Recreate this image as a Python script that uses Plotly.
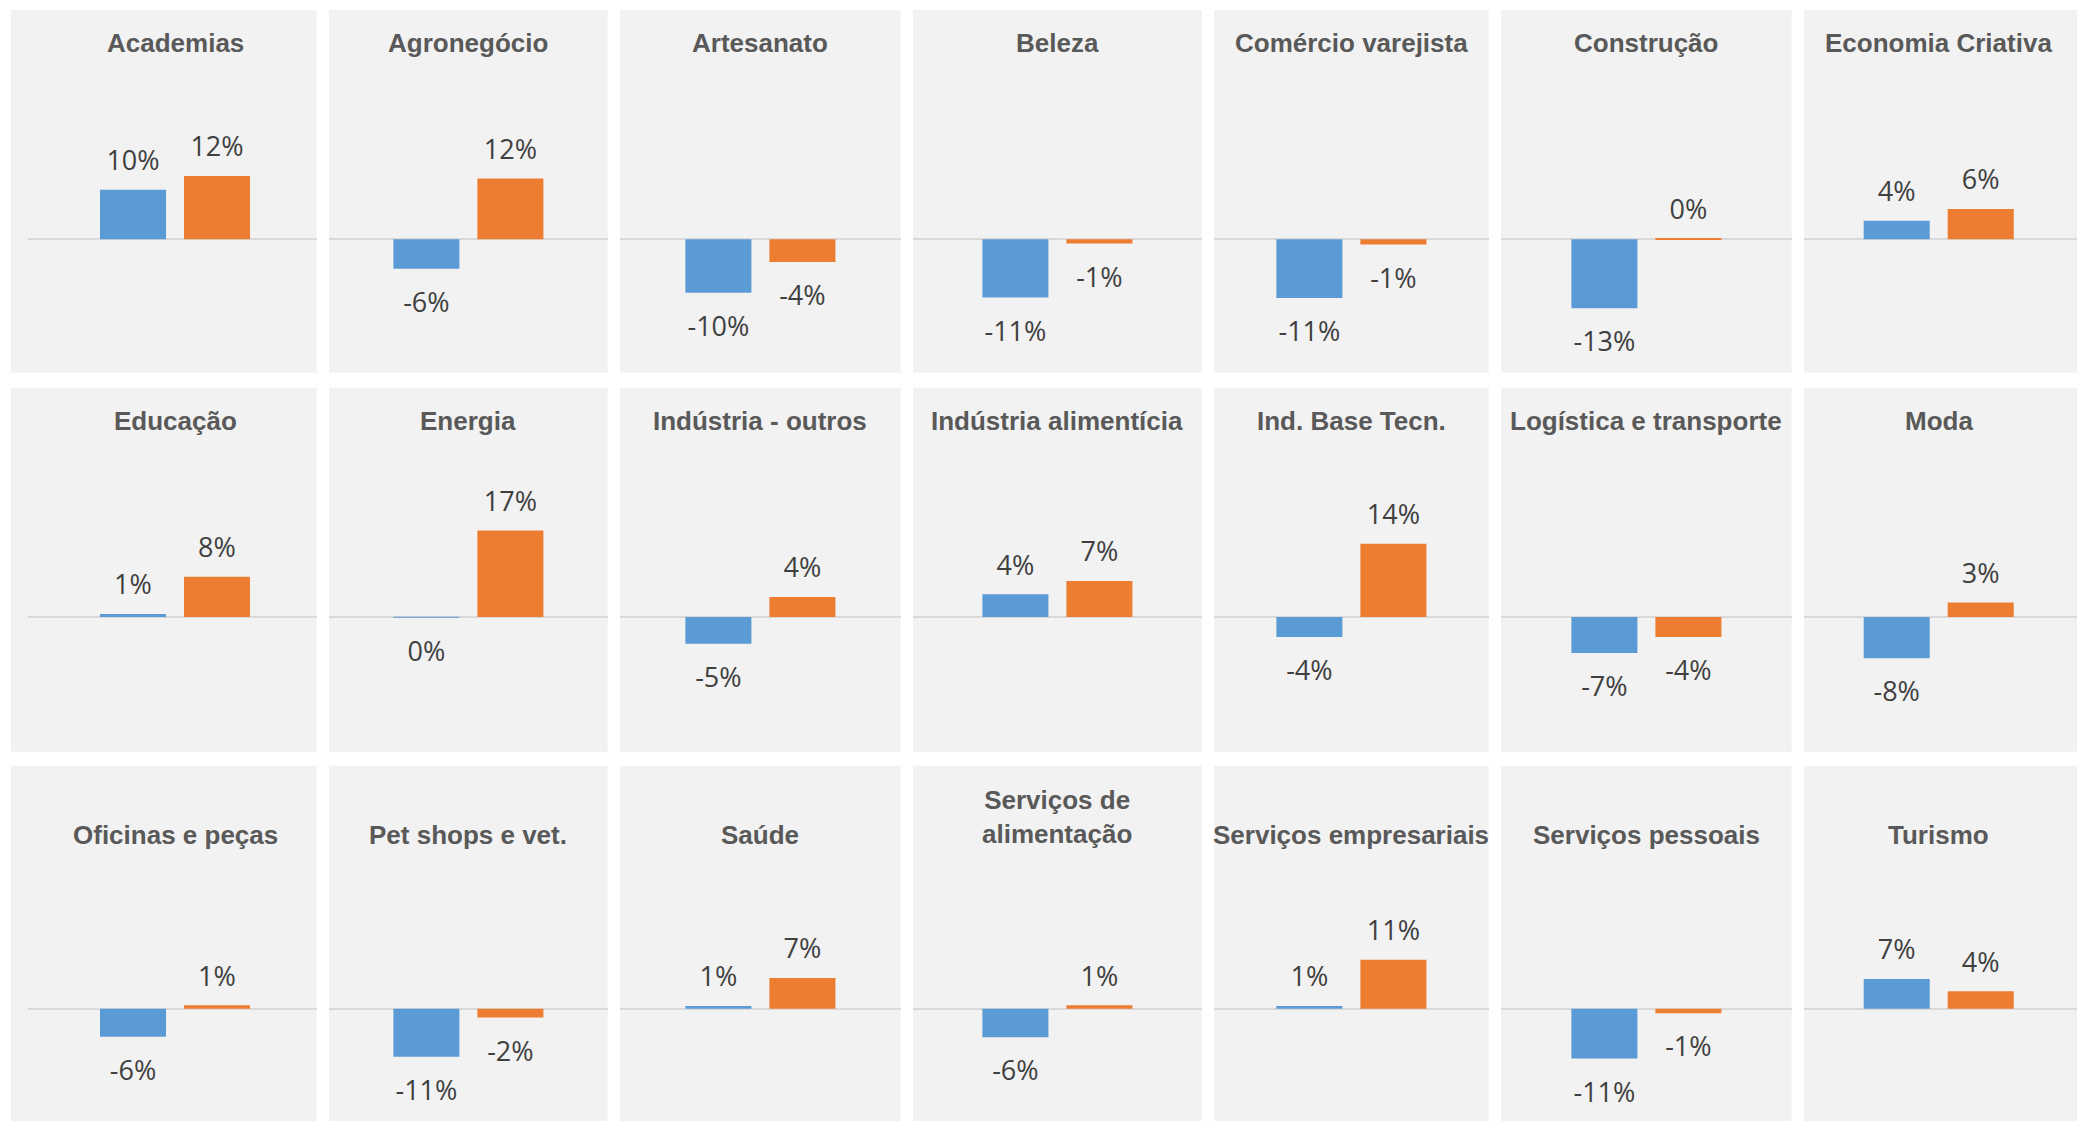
import plotly.graph_objects as go

# ---------------- data ----------------
sectors = ["Academias", "Agronegócio", "Artesanato", "Beleza", "Comércio varejista",
           "Construção", "Economia Criativa",
           "Educação", "Energia", "Indústria - outros", "Indústria alimentícia",
           "Ind. Base Tecn.", "Logística e transporte", "Moda",
           "Oficinas e peças", "Pet shops e vet.", "Saúde", "Serviços de alimentação",
           "Serviços empresariais", "Serviços pessoais", "Turismo"]
panel_titles = ["Academias", "Agronegócio", "Artesanato", "Beleza", "Comércio varejista",
                "Construção", "Economia Criativa",
                "Educação", "Energia", "Indústria - outros", "Indústria alimentícia",
                "Ind. Base Tecn.", "Logística e transporte", "Moda",
                "Oficinas e peças", "Pet shops e vet.", "Saúde", "Serviços de<br>alimentação",
                "Serviços empresariais", "Serviços pessoais", "Turismo"]
serie1_name = "Série 1"
serie2_name = "Série 2"
serie1 = [0.096, -0.057, -0.104, -0.113, -0.114, -0.134, 0.036,
          0.006, -0.001, -0.052, 0.044, -0.039, -0.070, -0.080,
          -0.063, -0.108, 0.006, -0.064, 0.006, -0.112, 0.067]
serie2 = [0.123, 0.118, -0.044, -0.008, -0.010, 0.001, 0.059,
          0.078, 0.168, 0.039, 0.070, 0.142, -0.039, 0.028,
          0.0075, -0.020, 0.069, 0.008, 0.110, -0.010, 0.039]

# ---------------- layout constants (pixels, page coordinates) ----------------
W, H = 2085, 1121
OFF = 8  # default body margin of the html page
col_left = [11, 329, 620, 913, 1214, 1501, 1804]
col_right = [316.7, 607.7, 900.7, 1201.7, 1488.7, 1791.7, 2093]
col_center = [175, 468.4, 760.4, 1057.4, 1351.4, 1646.4, 1938.7]
col_inset = [17, 0, 0, 0, 0, 0, 0]
row_top = [10, 387.7, 765.7]
row_bottom = [372.7, 751.7, 1129]
zero_y = [239.3, 617.0, 1008.7]
px_per_unit = [515, 515, 445]
title_y = [42.8, 421.2, 834.7]
UNIT = 280.0  # px per category unit
COLORS = ["#5B9BD5", "#ED7D31"]
LABEL_FONT = dict(family="Open Sans, Liberation Sans, sans-serif", size=27, color="#404040")
TITLE_FONT = dict(family="Liberation Sans, Arial, sans-serif", size=26, color="#595959", weight="bold")
SIZE_POS, SIZE_NEG = 19, 35


def fx(px):
    return (px - OFF) / W


def fy(py):
    return 1 - (py - OFF) / H


fig = go.Figure()
shapes, annotations = [], []

for i, sec in enumerate(sectors):
    r, c = divmod(i, 7)
    n = i + 1
    xa = "x" if n == 1 else f"x{n}"
    ya = "y" if n == 1 else f"y{n}"
    x0 = col_left[c] + col_inset[c]
    dom_x = [max(0, fx(x0)), min(1, fx(col_right[c]))]
    dom_y = [max(0, fy(row_bottom[r])), min(1, fy(row_top[r]))]
    left_px = dom_x[0] * W + OFF
    right_px = dom_x[1] * W + OFF
    top_px = row_top[r]
    bot_px = top_px + (dom_y[1] - dom_y[0]) * H
    xr = [-(col_center[c] - left_px) / UNIT, (right_px - col_center[c]) / UNIT]
    yr = [-(bot_px - zero_y[r]) / px_per_unit[r], (zero_y[r] - top_px) / px_per_unit[r]]

    shapes.append(dict(type="rect", xref="paper", yref="paper", layer="below",
                       x0=max(0, fx(col_left[c])), x1=dom_x[1],
                       y0=dom_y[0], y1=dom_y[1], fillcolor="#F2F2F2", line=dict(width=0)))

    for k, (vals, name) in enumerate([(serie1, serie1_name), (serie2, serie2_name)]):
        v = vals[i]
        fig.add_trace(go.Bar(x=[sec], y=[v], name=name, marker=dict(color=COLORS[k], line=dict(width=0)),
                             xaxis=xa, yaxis=ya, showlegend=False, hoverinfo="x+y+name",
                             offsetgroup=str(k)))
        fig.add_trace(go.Scatter(x=[sec], y=[v], mode="markers+text", texttemplate="%{y:.0%}",
                                 textposition="top center" if v >= 0 else "bottom center",
                                 textfont=LABEL_FONT,
                                 marker=dict(size=SIZE_POS if v >= 0 else SIZE_NEG, color="rgba(0,0,0,0)"),
                                 xaxis=xa, yaxis=ya, showlegend=False, hoverinfo="skip",
                                 offsetgroup=str(k), cliponaxis=False))

    axis_common = dict(showgrid=False, showticklabels=False, ticks="", showline=False, fixedrange=True)
    fig.layout[("xaxis" if n == 1 else f"xaxis{n}")] = dict(domain=dom_x, type="category",
                                                            range=xr, zeroline=False,
                                                            anchor=ya, **axis_common)
    fig.layout[("yaxis" if n == 1 else f"yaxis{n}")] = dict(domain=dom_y, range=yr, zeroline=True,
                                                            zerolinecolor="#D9D9D9", zerolinewidth=1.5,
                                                            anchor=xa, **axis_common)

    t = panel_titles[i]
    nlines = t.count("<br>") + 1
    ty = title_y[r] - (nlines - 1) * 18
    annotations.append(dict(text=t, xref="paper", yref="paper", x=fx(col_center[c]), y=fy(ty),
                            xanchor="center", yanchor="middle", showarrow=False, font=TITLE_FONT))

fig.update_layout(width=W, height=H, margin=dict(l=0, r=0, t=0, b=0),
                  paper_bgcolor="white", plot_bgcolor="rgba(0,0,0,0)",
                  barmode="group", bargap=0.4, bargroupgap=0.214,
                  scattermode="group", scattergap=0.4,
                  shapes=shapes, annotations=annotations, showlegend=False)

fig.write_html("out.html")
